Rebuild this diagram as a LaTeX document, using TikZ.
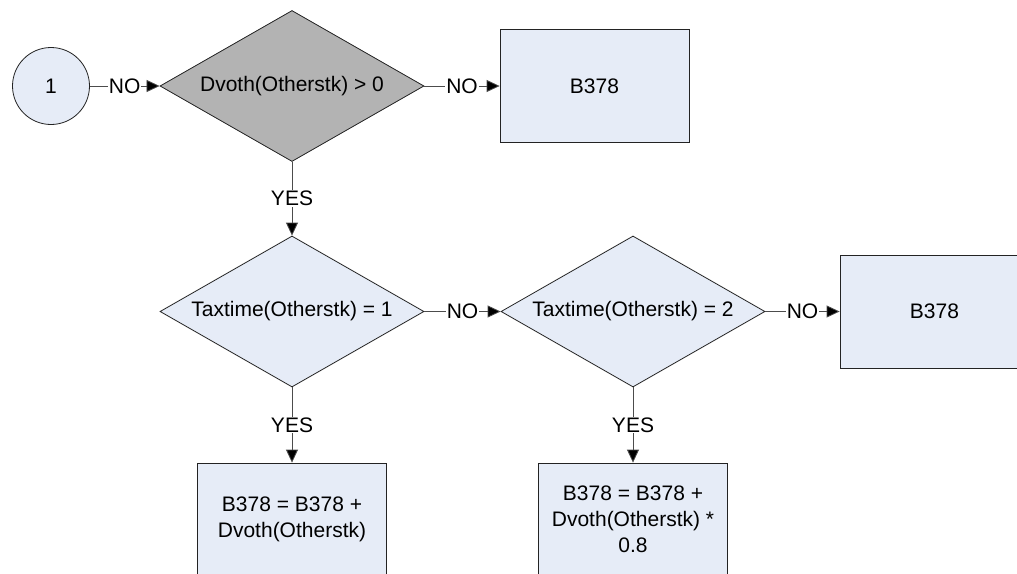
\documentclass[tikz,border=0pt]{standalone}
\usepackage{fontspec}
\setmainfont{Liberation Sans}
\usetikzlibrary{arrows.meta,shapes.geometric}
\definecolor{boxfill}{RGB}{230,236,247}
\definecolor{testfill}{RGB}{179,179,179}
\definecolor{edgecolor}{RGB}{35,35,35}

\begin{document}
\begin{tikzpicture}[x=1pt, y=-1pt, line width=0.8pt,
    font=\fontsize{21}{26}\selectfont,
    actbox/.style={draw=edgecolor, fill=boxfill, minimum width=189pt, minimum height=113pt, align=center, inner sep=2pt},
    test/.style={diamond, draw=edgecolor, fill=boxfill, aspect=1.75, inner sep=0pt, minimum width=264pt, minimum height=151pt},
    flow/.style={draw=black!70, -{Triangle[length=13pt,width=12pt,fill=black]}},
    tag/.style={fill=white, inner sep=1pt}]
        \useasboundingbox (0,0) rectangle (1017,573);
        \clip (0,0) rectangle (1017,573);
        % entry point and first test
        \node[circle, draw=edgecolor, fill=boxfill, minimum size=77pt] (start) at (51,86) {1};
        \node[test, fill=testfill] (dvoth) at (292,86) {Dvoth(Otherstk) > 0};
        \node[actbox] (keepA) at (594.5,86) {B378};
        % tax time tests
        \node[test] (tax1) at (292,311.5) {Taxtime(Otherstk) = 1};
        \node[test] (tax2) at (633,311.5) {Taxtime(Otherstk) = 2};
        \node[actbox] (keepB) at (934.5,311.5) {B378};
        % updates of B378
        \node[actbox] (addfull) at (292,519.5) {B378 = B378 +\\Dvoth(Otherstk)};
        \node[actbox] (addpart) at (633,519.5) {B378 = B378 +\\Dvoth(Otherstk) *\\0.8};
        % connectors
        \draw[flow] (start) -- node[tag]{NO} (dvoth);
        \draw[flow] (dvoth) -- node[tag]{NO} (keepA);
        \draw[flow] (dvoth) -- node[tag]{YES} (tax1);
        \draw[flow] (tax1) -- node[tag]{NO} (tax2);
        \draw[flow] (tax2) -- node[tag]{NO} (keepB);
        \draw[flow] (tax1) -- node[tag]{YES} (addfull);
        \draw[flow] (tax2) -- node[tag]{YES} (addpart);
      \end{tikzpicture}
\end{document}
